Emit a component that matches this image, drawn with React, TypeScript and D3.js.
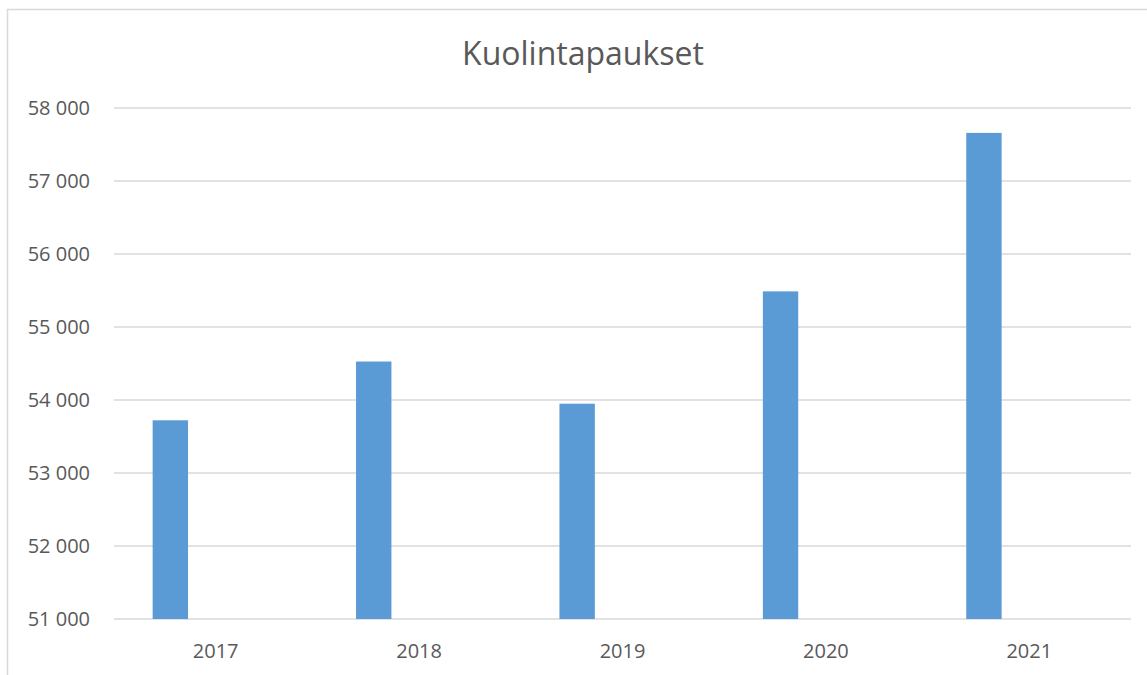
import * as d3 from 'd3';
import React, { useEffect, useRef } from 'react';

const years = ['2017', '2018', '2019', '2020', '2021'];
const deaths = [53722, 54527, 53949, 55488, 57659];
const yTicks = [51000, 52000, 53000, 54000, 55000, 56000, 57000, 58000];
const title = 'Kuolintapaukset';

export default function App() {
  const ref = useRef<SVGSVGElement>(null);

  function drawChart() {
    const width = 1147;
    const height = 675;
    const margin = { top: 108, right: 16, bottom: 56, left: 114 };
    const font = '"Open Sans", sans-serif';

    const svg = d3.select(ref.current);
    svg.selectAll('*').remove();

    // chart frame (only left and top edges are visible in the crop)
    svg
      .append('path')
      .attr('d', `M7.5,${height} L7.5,9.5 L${width},9.5`)
      .attr('fill', 'none')
      .attr('stroke', '#d9d9d9')
      .attr('stroke-width', 1.5);

    svg
      .append('text')
      .attr('x', 583)
      .attr('y', 65)
      .attr('text-anchor', 'middle')
      .attr('font-family', font)
      .attr('font-size', 32)
      .attr('fill', '#595959')
      .text(title);

    const x = d3
      .scaleBand()
      .domain(years)
      .range([margin.left, width - margin.right]);

    const y = d3
      .scaleLinear()
      .domain([51000, 58000])
      .range([height - margin.bottom, margin.top]);

    const fmt = (v: number) => d3.format(',')(v).replace(',', ' ');

    const g = svg.append('g');

    g.selectAll('line.grid')
      .data(yTicks)
      .enter()
      .append('line')
      .attr('class', 'grid')
      .attr('x1', margin.left)
      .attr('x2', width - margin.right)
      .attr('y1', (d) => y(d))
      .attr('y2', (d) => y(d))
      .attr('stroke', '#d9d9d9')
      .attr('stroke-width', 1.5);

    g.selectAll('text.ylab')
      .data(yTicks)
      .enter()
      .append('text')
      .attr('class', 'ylab')
      .attr('x', 90)
      .attr('y', (d) => y(d))
      .attr('dy', '0.36em')
      .attr('text-anchor', 'end')
      .attr('font-family', font)
      .attr('font-size', 20)
      .attr('fill', '#595959')
      .text((d) => fmt(d));

    // bar sits left of the category centre, as in the original Excel chart
    const bw = x.bandwidth();
    g.selectAll('rect.bar')
      .data(years)
      .enter()
      .append('rect')
      .attr('class', 'bar')
      .attr('x', (d) => (x(d) as number) + bw * 0.19)
      .attr('width', bw * 0.174)
      .attr('y', (d, i) => y(deaths[i]))
      .attr('height', (d, i) => y(51000) - y(deaths[i]))
      .attr('fill', '#5b9bd5');

    g.selectAll('text.xlab')
      .data(years)
      .enter()
      .append('text')
      .attr('class', 'xlab')
      .attr('x', (d) => (x(d) as number) + bw / 2)
      .attr('y', 658)
      .attr('text-anchor', 'middle')
      .attr('font-family', font)
      .attr('font-size', 20)
      .attr('fill', '#595959')
      .text((d) => d);
  }

  useEffect(() => {
    drawChart();
  }, []);

  return (
    <svg
      ref={ref}
      width={1147}
      height={675}
      style={{ position: 'absolute', left: 0, top: 0, background: '#fff' }}
    ></svg>
  );
}
